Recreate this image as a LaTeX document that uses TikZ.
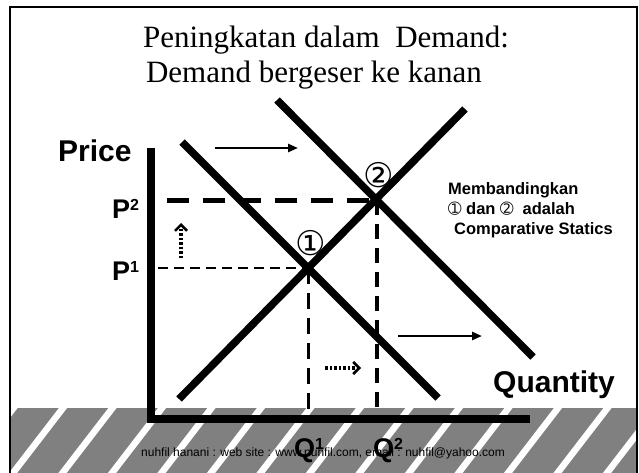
\documentclass[tikz,border=0pt]{standalone}
\usepackage{fontspec}
\setmainfont{Liberation Serif}
\setsansfont{Liberation Sans}
\newfontfamily\symfont{DejaVu Sans}
\usetikzlibrary{arrows.meta}
\definecolor{bandgray}{HTML}{808080}
\tikzset{
  curve/.style={line width=7.5pt},
  axisline/.style={line width=7.5pt, line join=miter},
  shiftarrow/.style={line width=2.5pt, -{Triangle[length=10pt,width=8pt]}},
  dotarrow/.style={line width=3.5pt, dash pattern=on 2.5pt off 2pt, -{Straight Barb[length=6pt,width=12pt,line width=2.5pt]}},
  lbl/.style={font=\sffamily\bfseries\fontsize{30}{36}\selectfont, anchor=base west, inner sep=0pt},
  plbl/.style={font=\sffamily\bfseries\fontsize{27}{32}\selectfont, anchor=base west, inner sep=0pt},
  side/.style={font=\sffamily\bfseries\fontsize{16.5}{20}\selectfont, anchor=base west, inner sep=0pt},
  titlefont/.style={font=\fontsize{31}{35}\selectfont, anchor=base, inner sep=0pt},
  circnum/.style={font=\symfont\fontsize{34}{34}\selectfont, inner sep=0pt}
}
\newcommand{\mysup}[1]{\raisebox{7.5pt}{\fontsize{16}{16}\selectfont #1}}
\begin{document}
\begin{tikzpicture}[x=1pt,y=-1pt]
\useasboundingbox (0,0) rectangle (639,473);
% hatched band
\fill[bandgray] (11,408) rectangle (637,473);
\begin{scope}
  \clip (11,408) rectangle (637,473);
  \foreach \i in {-2,...,13} {
    \draw[white, line width=6.5pt] ({70.7+49.5*\i},398) -- ({5.3+49.5*\i},483);
  }
\end{scope}
% frame
\draw[line width=2pt] (10,473) -- (10,7) -- (637,7) -- (637,473);
% title
\node[titlefont] (t1) at (326,48) {Peningkatan dalam\ \ Demand:};
\node[titlefont] (t2) at (314,83) {Demand bergeser ke kanan};
% key points
\coordinate (E1) at (308,268);
\coordinate (E2) at (377,200);
\coordinate (P2s) at (167,200);
\coordinate (P1s) at (158,268);
\coordinate (Q1e) at (308,419);
\coordinate (Q2e) at (377,419);
% dashed guides
\draw[line width=5pt, dash pattern=on 22pt off 14pt] (P2s) -- (E2);
\draw[line width=2.5pt, dash pattern=on 10pt off 6pt] (P1s) -- (E1);
\draw[line width=3pt, dash pattern=on 16pt off 9pt] (E1) -- (Q1e);
\draw[line width=3.5pt, dash pattern=on 15pt off 9pt] (E2) -- (Q2e);
% curves
\coordinate (D1a) at (182,142);
\coordinate (D1b) at (438,398);
\coordinate (D2a) at (277,100);
\coordinate (D2b) at (533,357);
\coordinate (Sa) at (179,399);
\coordinate (Sb) at (465,109);
\draw[curve] (D1a) -- (D1b);
\draw[curve] (D2a) -- (D2b);
\draw[curve] (Sa) -- (Sb);
% axes
\coordinate (Ytop) at (151,148);
\coordinate (O) at (151,419);
\coordinate (Xend) at (530,419);
\draw[axisline] (Ytop) -- (O) -- (Xend);
% shift arrows
\coordinate (A1s) at (215,148); \coordinate (A1e) at (298,148);
\coordinate (A2s) at (398,336); \coordinate (A2e) at (482,336);
\draw[shiftarrow] (A1s) -- (A1e);
\draw[shiftarrow] (A2s) -- (A2e);
\coordinate (U1s) at (181,258); \coordinate (U1e) at (181,223);
\coordinate (R1s) at (325,368); \coordinate (R1e) at (361,368);
\draw[dotarrow] (U1s) -- (U1e);
\draw[dotarrow] (R1s) -- (R1e);
% labels
\node[lbl] (price) at (58,162) {Price};
\node[lbl] (qty) at (493,392) {Quantity};
\node[plbl] (p2) at (112,218) {P\mysup{2}};
\node[plbl] (p1) at (112,280) {P\mysup{1}};
\node[font=\sffamily\fontsize{12}{14}\selectfont, anchor=base west, inner sep=0pt] (foot) at (141,456) {nuhfil hanani : web site : www.nuhfil.com, email : nuhfil@yahoo.com};
\node[plbl] (q1) at (294,457) {Q\mysup{1}};
\node[plbl] (q2) at (373,457) {Q\mysup{2}};
\node[circnum] (c1) at (311,243) {①};
\node[circnum] (c2) at (379,175) {②};
\node[side] (s1) at (448,194) {Membandingkan};
\node[side] (s2) at (448,214) {{\symfont\fontsize{16}{16}\selectfont ➀} dan {\symfont\fontsize{16}{16}\selectfont ➁}\ \ adalah};
\node[side] (s3) at (454,234) {Comparative Statics};
\end{tikzpicture}
\end{document}
